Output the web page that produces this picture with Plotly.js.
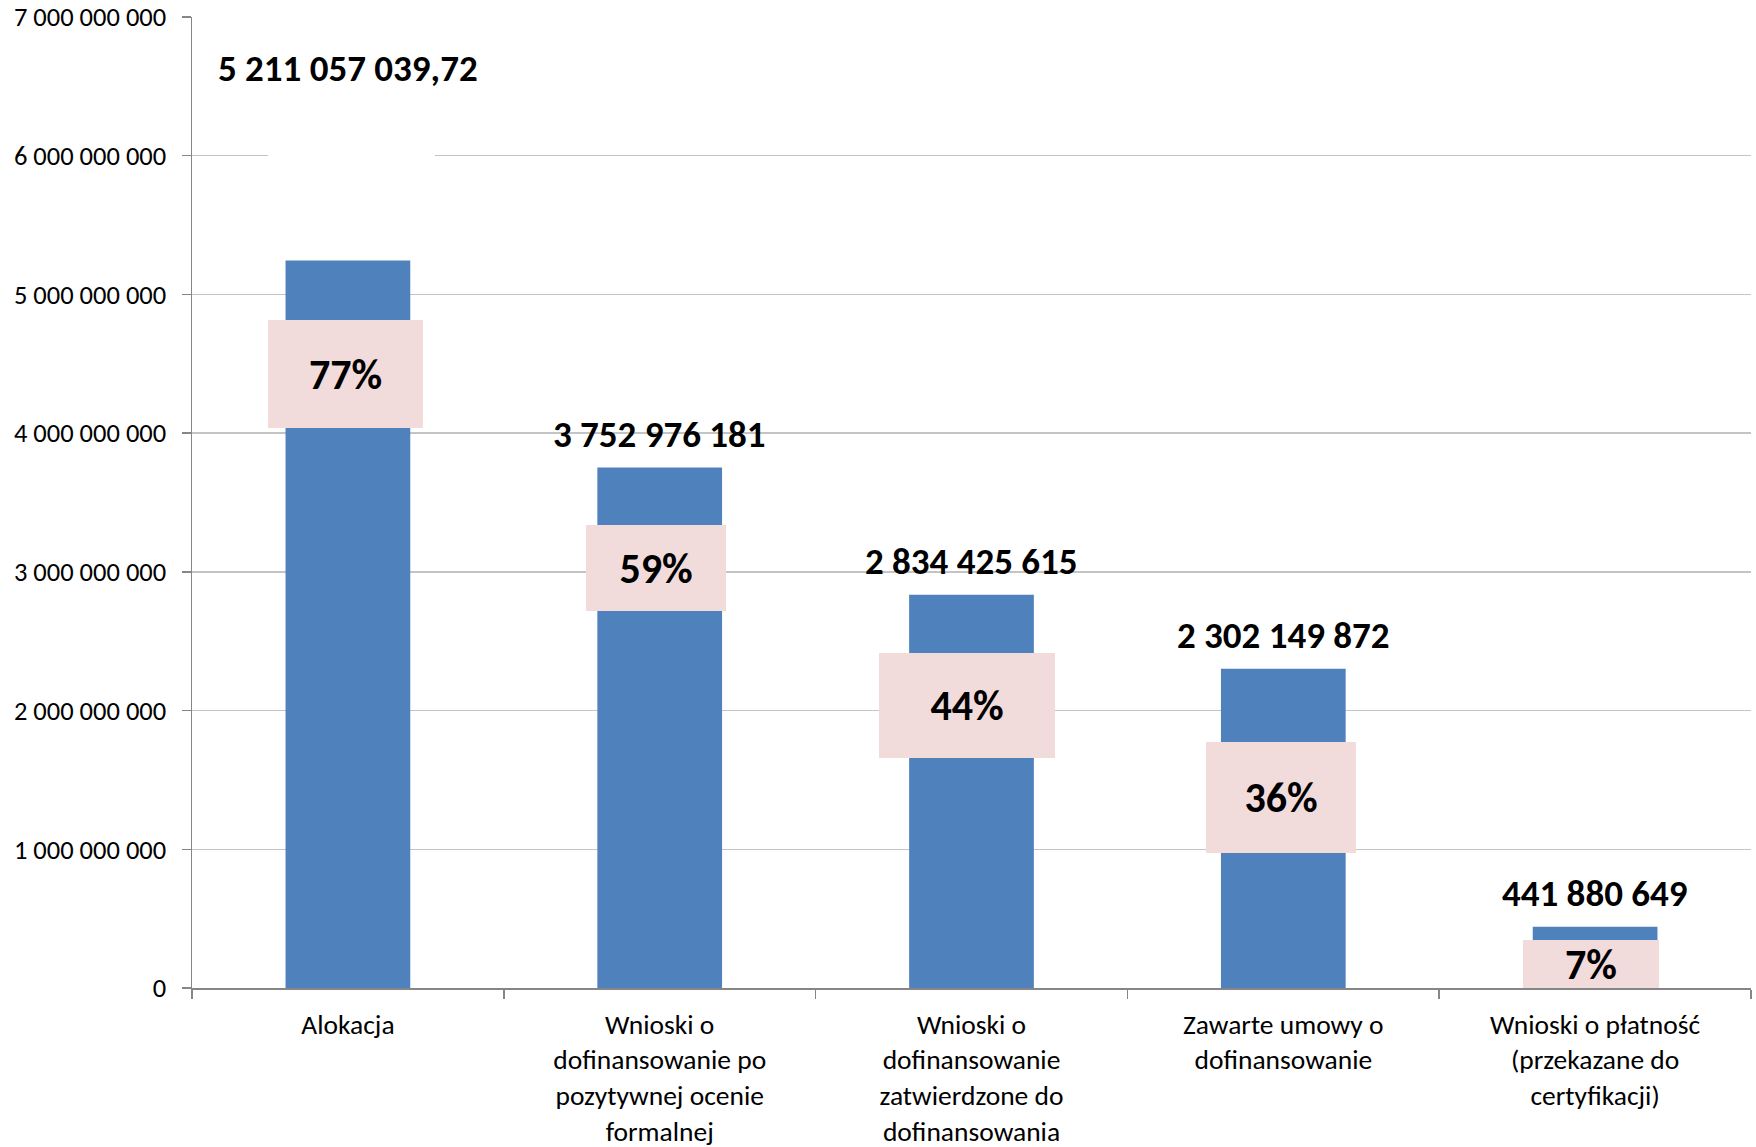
<!DOCTYPE html>
<html>
<head>
<meta charset="utf-8">
<script src="https://cdn.plot.ly/plotly-3.0.1.min.js"></script>
<style>html,body{margin:0;padding:0;background:#fff;}#chart{width:1756px;height:1147px;}</style>
</head>
<body>
<div id="chart"></div>
<script>
// ---- data ----
const categories = [
  'Alokacja',
  'Wnioski o<br>dofinansowanie po<br>pozytywnej ocenie<br>formalnej',
  'Wnioski o<br>dofinansowanie<br>zatwierdzone do<br>dofinansowania',
  'Zawarte umowy o<br>dofinansowanie',
  'Wnioski o płatność<br>(przekazane do<br>certyfikacji)'
];
const values = [5245000000, 3752976181, 2834425615, 2302149872, 441880649];
const valueLabels = ['5 211 057 039,72', '3 752 976 181', '2 834 425 615', '2 302 149 872', '441 880 649'];
const percentLabels = ['77%', '59%', '44%', '36%', '7%'];

// ---- label placement (layout only) ----
const valueLabelShift = [192, 33, 33, 33, 33];
const boxCenterY = [4.427e9, 3.028e9, 2.037e9, 1.370e9, 0.173e9];
const boxW = [155, 140, 176, 150, 136];
const boxH = [108, 86, 105, 111, 48];
const boxXShift = [-2, -4, -5, -2, -4];

const FONT = 'Carlito, Calibri, Lato, sans-serif';
const AXIS = '#868686';

const annotations = [];
categories.forEach((c, i) => {
  annotations.push({
    x: c, y: values[i], xref: 'x', yref: 'y',
    text: valueLabels[i], showarrow: false,
    yanchor: 'middle', xanchor: 'center', yshift: valueLabelShift[i],
    font: {family: FONT, size: 37, color: '#000', weight: 'bold'}
  });
  annotations.push({
    x: c, y: boxCenterY[i], xref: 'x', yref: 'y',
    text: '<b>' + percentLabels[i] + '</b>', showarrow: false,
    yanchor: 'middle', xanchor: 'center', xshift: boxXShift[i],
    width: boxW[i], height: boxH[i], borderpad: 0, borderwidth: 0,
    bgcolor: '#F2DCDB', align: 'center', valign: 'middle',
    font: {family: FONT, size: 42, color: '#000'}
  });
});

const trace = {
  type: 'bar',
  x: categories,
  y: values,
  marker: {color: '#4F81BD'},
  hoverinfo: 'skip'
};

const layout = {
  width: 1756, height: 1147,
  margin: {l: 192, r: 5, t: 17, b: 159},
  paper_bgcolor: '#fff', plot_bgcolor: '#fff',
  separators: ', ',
  showlegend: false,
  bargap: 0.6,
  font: {family: FONT, color: '#000'},
  xaxis: {
    type: 'category',
    showline: true, linecolor: AXIS, linewidth: 1.5,
    ticks: 'outside', tickson: 'boundaries', ticklen: 9, tickwidth: 1.5, tickcolor: AXIS,
    ticklabelstandoff: 11,
    showgrid: false,
    tickfont: {family: FONT, size: 27.5, color: '#000'}
  },
  yaxis: {
    range: [0, 7e9], dtick: 1e9, tick0: 0,
    tickformat: ',d',
    showline: true, linecolor: AXIS, linewidth: 1.5,
    ticks: 'outside', ticklen: 9, tickwidth: 1.5, tickcolor: AXIS,
    ticklabelstandoff: 10,
    showgrid: true, gridcolor: '#C4C4C4', gridwidth: 1.3,
    zeroline: false,
    tickfont: {family: FONT, size: 26.5, color: '#000'}
  },
  shapes: [{
    type: 'rect', xref: 'x', yref: 'y', layer: 'above',
    x0: -0.256, x1: 0.279, y0: 5.93e9, y1: 6.07e9,
    fillcolor: '#fff', line: {width: 0}
  }],
  annotations: annotations
};

Plotly.newPlot('chart', [trace], layout, {staticPlot: true, displayModeBar: false});
</script>
</body>
</html>
